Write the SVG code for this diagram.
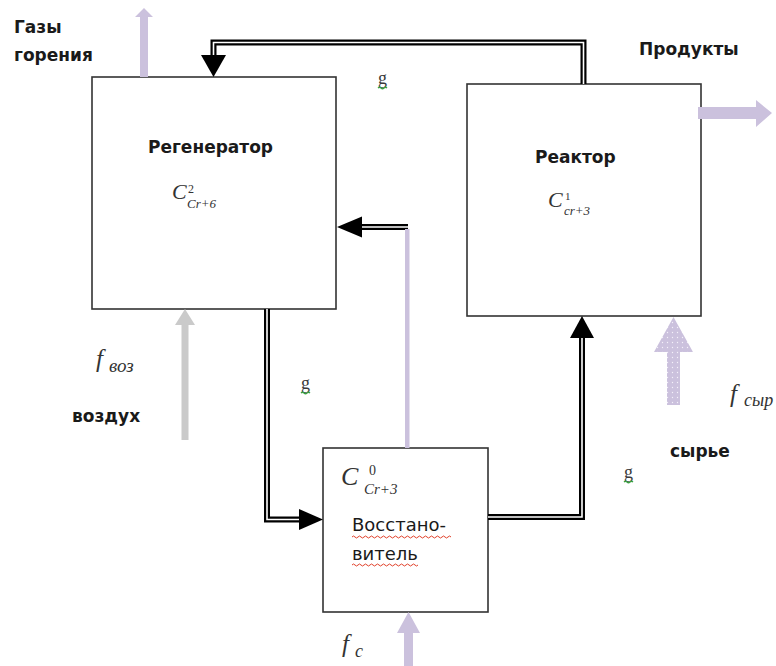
<svg xmlns="http://www.w3.org/2000/svg" width="776" height="666" viewBox="0 0 776 666">
<defs>
<style>
.box{fill:#fff;stroke:#333;stroke-width:1.6}
.dbl-o{fill:none;stroke:#000;stroke-width:6;stroke-linejoin:miter}
.dbl-i{fill:none;stroke:#fff;stroke-width:1.6;stroke-linejoin:miter}
.head{fill:#000}
.lav{fill:#cbc1dd}
.gry{fill:#cacaca}
.lbl{font-family:"DejaVu Sans",Verdana,sans-serif;font-weight:bold;font-size:17px;fill:#1a1a1a}
.lblr{font-family:"DejaVu Sans",Verdana,sans-serif;font-size:18px;fill:#1a1a1a}
.m{font-family:"Liberation Serif","Times New Roman",serif;font-style:italic;fill:#333}
.up{font-style:normal}
.g{font-family:"Liberation Serif","Times New Roman",serif;font-size:18px;fill:#3a3a3a}
.sq{fill:none;stroke:#e0402a;stroke-width:1}
.sqg{fill:none;stroke:#3aa040;stroke-width:1.2}
</style>
<pattern id="dots" width="5" height="5" patternUnits="userSpaceOnUse">
<rect width="5" height="5" fill="#cbc1dd"/>
<circle cx="2.5" cy="2.5" r="0.7" fill="#f4f0fa"/>
</pattern>
</defs>
<rect width="776" height="666" fill="#fff"/>

<g id="regenerator">
<rect class="box" x="92" y="77" width="244" height="232"/>
<text class="lbl" x="148" y="153">Регенератор</text>
<text class="m" x="172" y="199" font-size="22">C</text>
<text class="m up" x="188" y="193" font-size="12">2</text>
<text class="m" x="187" y="208" font-size="13">Cr+6</text>
</g>

<g id="reactor">
<rect class="box" x="467" y="84" width="234" height="232"/>
<text class="lbl" x="535" y="163">Реактор</text>
<text class="m" x="548" y="207" font-size="22">C</text>
<text class="m up" x="565" y="200" font-size="11">1</text>
<text class="m" x="564" y="215" font-size="13">cr+3</text>
</g>

<g id="restorer">
<rect class="box" x="323" y="448" width="165" height="164"/>
<text class="m" x="341" y="485" font-size="26">C</text>
<text class="m up" x="369" y="475" font-size="14">0</text>
<text class="m" x="364" y="494" font-size="15">Cr+3</text>
<text class="lblr" x="352" y="531">Восстано-</text>
<text class="lblr" x="352" y="560">витель</text>
<path class="sq" d="M352,537 q1.5,-2 3,0 t3,0 t3,0 t3,0 t3,0 t3,0 t3,0 t3,0 t3,0 t3,0 t3,0 t3,0 t3,0 t3,0 t3,0 t3,0 t3,0 t3,0 t3,0 t3,0 t3,0 t3,0 t3,0 t3,0 t3,0 t3,0 t3,0 t3,0 t3,0 t3,0 t3,0 t3,0 t3,0"/>
<path class="sq" d="M352,565 q1.5,-2 3,0 t3,0 t3,0 t3,0 t3,0 t3,0 t3,0 t3,0 t3,0 t3,0 t3,0 t3,0 t3,0 t3,0 t3,0 t3,0 t3,0 t3,0 t3,0 t3,0 t3,0 t3,0"/>
</g>

<g id="connectors">
<path class="dbl-o" d="M583.5,84 V42.5 H213.5 V57"/>
<path class="dbl-i" d="M583.5,84 V42.5 H213.5 V57"/>
<polygon class="head" points="201,55 226,55 213.5,77"/>

<path class="dbl-o" d="M408,227 H360"/>
<path class="dbl-i" d="M408,227 H360"/>
<polygon class="head" points="337,227 362,216.5 362,237.5"/>
<rect class="lav" x="405" y="229" width="4.5" height="219"/>

<path class="dbl-o" d="M267,309 V519.5 H302"/>
<path class="dbl-i" d="M267,309 V519.5 H302"/>
<polygon class="head" points="299,509 323,519.5 299,530"/>

<path class="dbl-o" d="M488,517 H582 V336"/>
<path class="dbl-i" d="M488,517 H582 V336"/>
<polygon class="head" points="570,338 594,338 582,316"/>
</g>

<g id="flows">
<polygon class="lav" points="140,77 140,17 135,17 144,8 153,17 148,17 148,77"/>
<polygon class="lav" points="698,107 756,107 756,100 772,113 756,127 756,119 698,119"/>
<polygon fill="url(#dots)" points="667,405 667,352 654,352 673.5,317 693,352 680,352 680,405"/>
<polygon class="gry" points="181.5,440 181.5,325 175,325 185,309 195,325 188.5,325 188.5,440"/>
<polygon class="lav" points="404,666 404,633 397,633 408.5,612 420,633 413,633 413,666"/>
</g>

<g id="labels">
<text class="lbl" x="14" y="33">Газы</text>
<text class="lbl" x="14" y="61">горения</text>
<text class="lbl" x="639" y="55">Продукты</text>
<text class="lbl" x="72" y="422">воздух</text>
<text class="lbl" x="670" y="457">сырье</text>
<text class="m" x="96" y="367" font-size="25">f</text>
<text class="m" x="109" y="372" font-size="19">воз</text>
<text class="m" x="730" y="402" font-size="25">f</text>
<text class="m" x="744" y="406" font-size="18">сыр</text>
<text class="m" x="342" y="652" font-size="25">f</text>
<text class="m" x="355" y="657" font-size="18">c</text>
<text class="g" x="378" y="84">g</text>
<text class="g" x="301" y="389">g</text>
<text class="g" x="624" y="478">g</text>
<path class="sqg" d="M378,88 q1.5,-1.5 3,0 t3,0 t3,0"/>
<path class="sqg" d="M301,393 q1.5,-1.5 3,0 t3,0 t3,0"/>
<path class="sqg" d="M624,482 q1.5,-1.5 3,0 t3,0 t3,0"/>
</g>
</svg>
